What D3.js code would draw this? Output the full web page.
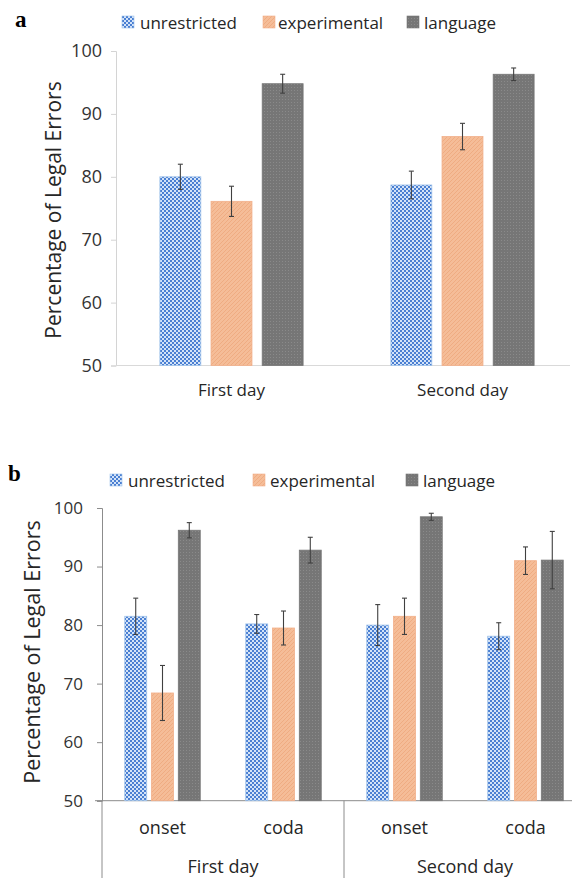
<!DOCTYPE html>
<html>
<head>
<meta charset="utf-8">
<script src="https://cdn.jsdelivr.net/npm/d3@7"></script>
<style>
  body { margin: 0; background: #fff; }
  svg { display: block; font-family: "Open Sans", sans-serif; }
</style>
</head>
<body>
<svg id="chart" width="572" height="878"></svg>
<script>
// series and categories
var series = ["unrestricted", "experimental", "language"];

// panel a
var daysA = ["First day", "Second day"];
var meansA = [
  [80.0, 76.1, 94.8],
  [78.7, 86.4, 96.3]
];
var errsA = [
  [2.0, 2.4, 1.5],
  [2.2, 2.1, 1.0]
];

// panel b
var daysB = ["First day", "Second day"];
var positionsB = ["onset", "coda"];
var meansB = [
  [81.5, 68.4, 96.2],
  [80.2, 79.5, 92.8],
  [80.0, 81.5, 98.5],
  [78.1, 91.0, 91.1]
];
var errsB = [
  [3.1, 4.7, 1.3],
  [1.6, 2.9, 2.2],
  [3.5, 3.1, 0.6],
  [2.3, 2.35, 4.9]
];

var yTicks = [50, 60, 70, 80, 90, 100];

var svg = d3.select("#chart");

// fill patterns, like the excel ones
var defs = svg.append("defs");
var pUn = defs.append("pattern").attr("id", "pat-unrestricted")
  .attr("patternUnits", "userSpaceOnUse").attr("width", 4).attr("height", 4);
pUn.append("rect").attr("width", 4).attr("height", 4).attr("fill", "#4a7fd2");
pUn.append("rect").attr("width", 2).attr("height", 2).attr("fill", "#d3e3f8");
pUn.append("rect").attr("x", 2).attr("y", 2).attr("width", 2).attr("height", 2).attr("fill", "#d3e3f8");

var pEx = defs.append("pattern").attr("id", "pat-experimental")
  .attr("patternUnits", "userSpaceOnUse").attr("width", 4).attr("height", 4);
pEx.append("rect").attr("width", 4).attr("height", 4).attr("fill", "#f5bd98");
pEx.append("path").attr("d", "M-1,1 L1,-1 M0,4 L4,0 M3,5 L5,3")
  .attr("stroke", "#efac82").attr("stroke-width", 1);

var pLa = defs.append("pattern").attr("id", "pat-language")
  .attr("patternUnits", "userSpaceOnUse").attr("width", 3).attr("height", 3);
pLa.append("rect").attr("width", 3).attr("height", 3).attr("fill", "#767676");
pLa.append("rect").attr("width", 1).attr("height", 1).attr("fill", "#8a8a8a");

var fills = {
  unrestricted: "url(#pat-unrestricted)",
  experimental: "url(#pat-experimental)",
  language: "url(#pat-language)"
};
var borders = { unrestricted: "#9fc2ea", experimental: "#f2b08a", language: "#777" };

function legend(g, boxX, textX, base) {
  series.forEach(function(s, i) {
    g.append("rect").attr("x", boxX[i]).attr("y", base - 13)
      .attr("width", 12).attr("height", 12)
      .attr("fill", fills[s]).attr("stroke", borders[s]).attr("stroke-width", 0.6);
    g.append("text").attr("x", textX[i]).attr("y", base)
      .attr("font-size", 17).attr("fill", "#262626").text(s);
  });
}

function bars(g, data, errs, inner, y, xOf) {
  data.forEach(function(row, gi) {
    var cx = xOf(gi);
    row.forEach(function(v, si) {
      var s = series[si];
      var bx = cx + inner(s);
      g.append("rect")
        .attr("x", bx).attr("y", y(v))
        .attr("width", inner.bandwidth()).attr("height", y(50) - y(v))
        .attr("fill", fills[s]).attr("stroke", borders[s]).attr("stroke-width", 0.8);
      var mx = bx + inner.bandwidth() / 2, e = errs[gi][si];
      g.append("line").attr("x1", mx).attr("x2", mx)
        .attr("y1", y(v + e)).attr("y2", y(v - e))
        .attr("stroke", "#404040").attr("stroke-width", 1.1);
      [v + e, v - e].forEach(function(t) {
        g.append("line").attr("x1", mx - 2.5).attr("x2", mx + 2.5)
          .attr("y1", y(t)).attr("y2", y(t))
          .attr("stroke", "#404040").attr("stroke-width", 1.1);
      });
    });
  });
}

// ---------- panel a ----------
var ga = svg.append("g");
ga.append("text").attr("x", 15).attr("y", 27).attr("font-family", "Liberation Serif")
  .attr("font-weight", "bold").attr("font-size", 23).text("a");
legend(ga, [122, 263, 407], [140, 278, 424], 29);

var yA = d3.scaleLinear().domain([50, 100]).range([365.5, 51]);
var xA = d3.scaleBand().domain(daysA).range([116, 578]);
var innerA = d3.scaleBand().domain(series)
  .range([-xA.bandwidth() * 0.31, xA.bandwidth() * 0.31]).paddingInner(0.2);

var axA = ga.append("g").attr("transform", "translate(116,0)")
  .call(d3.axisLeft(yA).tickValues(yTicks).tickSize(5).tickPadding(9));
axA.select(".domain").attr("stroke", "#d4d4d4");
axA.selectAll(".tick line").attr("stroke", "#d4d4d4");
axA.selectAll(".tick text").attr("font-size", 18).attr("fill", "#333")
  .attr("font-family", "Open Sans");

ga.append("line").attr("x1", 116).attr("x2", 570).attr("y1", yA(50)).attr("y2", yA(50))
  .attr("stroke", "#d9d9d9");

bars(ga, meansA, errsA, innerA, yA, function(i) { return xA(daysA[i]) + xA.bandwidth() / 2; });

ga.selectAll(".cat").data(daysA).enter().append("text")
  .attr("x", function(d) { return xA(d) + xA.bandwidth() / 2; })
  .attr("y", 396).attr("text-anchor", "middle")
  .attr("font-size", 17).attr("fill", "#262626").text(function(d) { return d; });

ga.append("text").attr("transform", "translate(61,210) rotate(-90)")
  .attr("text-anchor", "middle").attr("font-size", 21).attr("fill", "#262626")
  .text("Percentage of Legal Errors");

// ---------- panel b ----------
var gb = svg.append("g");
gb.append("text").attr("x", 8).attr("y", 481).attr("font-family", "Liberation Serif")
  .attr("font-weight", "bold").attr("font-size", 23).text("b");
legend(gb, [110, 253, 406], [128, 270, 423], 487);

var yB = d3.scaleLinear().domain([50, 100]).range([800.7, 508]);
var groupsB = [];
daysB.forEach(function(d) { positionsB.forEach(function(p) { groupsB.push(d + "|" + p); }); });
var xB = d3.scaleBand().domain(groupsB).range([102, 586]);
var dayB = d3.scaleBand().domain(daysB).range([102, 586]);
var innerB = d3.scaleBand().domain(series)
  .range([-xB.bandwidth() * 0.312, xB.bandwidth() * 0.312]).paddingInner(0.18);

var axB = gb.append("g").attr("transform", "translate(102,0)")
  .call(d3.axisLeft(yB).tickValues(yTicks).tickSize(5).tickPadding(14));
axB.select(".domain").attr("stroke", "#8c8c8c");
axB.selectAll(".tick line").attr("stroke", "#8c8c8c");
axB.selectAll(".tick text").attr("font-size", 17).attr("fill", "#333")
  .attr("font-family", "Open Sans");

// baseline and category separators
gb.append("line").attr("x1", 95).attr("x2", 586).attr("y1", yB(50)).attr("y2", yB(50))
  .attr("stroke", "#8c8c8c");
daysB.forEach(function(d) {
  var sx = dayB(d);
  gb.append("line").attr("x1", sx).attr("x2", sx).attr("y1", yB(50)).attr("y2", 878)
    .attr("stroke", "#8c8c8c");
});

bars(gb, meansB, errsB, innerB, yB, function(i) { return xB(groupsB[i]) + xB.bandwidth() / 2; });

gb.selectAll(".pos").data(groupsB).enter().append("text")
  .attr("x", function(d) { return xB(d) + xB.bandwidth() / 2; })
  .attr("y", 834).attr("text-anchor", "middle")
  .attr("font-size", 18).attr("fill", "#262626")
  .text(function(d) { return d.split("|")[1]; });
gb.selectAll(".day").data(daysB).enter().append("text")
  .attr("x", function(d) { return dayB(d) + dayB.bandwidth() / 2; })
  .attr("y", 873).attr("text-anchor", "middle")
  .attr("font-size", 18).attr("fill", "#262626").text(function(d) { return d; });

gb.append("text").attr("transform", "translate(40,652) rotate(-90)")
  .attr("text-anchor", "middle").attr("font-size", 21.5).attr("fill", "#262626")
  .text("Percentage of Legal Errors");
</script>
</body>
</html>
